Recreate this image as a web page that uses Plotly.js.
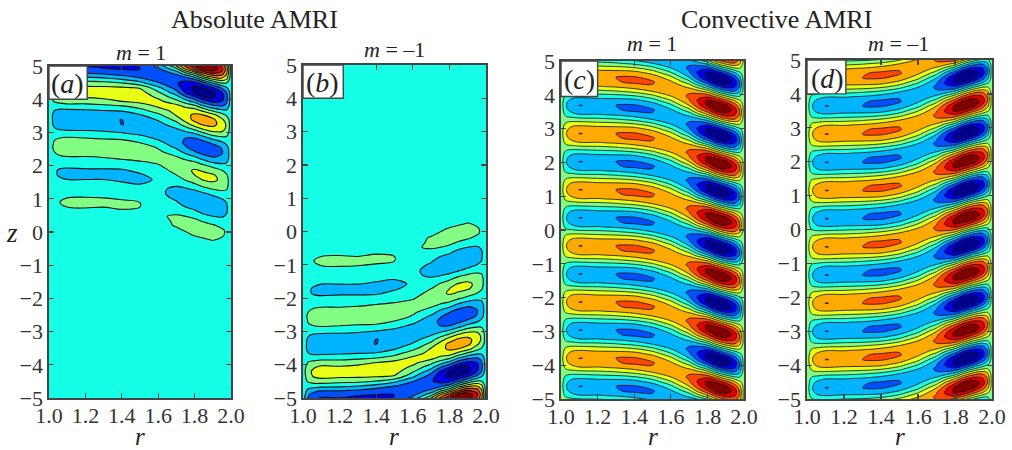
<!DOCTYPE html>
<html><head><meta charset="utf-8">
<script src="https://cdn.plot.ly/plotly-3.0.1.min.js"></script>
<style>html,body{margin:0;padding:0;background:#fff}</style></head>
<body><div id="g" style="width:1012px;height:450px"></div>
<script>
const radius=[1.0,1.012,1.03,1.06,1.1,1.2,1.3,1.4,1.5,1.6,1.7,1.75,1.8,1.85,1.9,1.95,1.975,2.0];
const p0=[0,6,15,22,25.2,24,25,26,22,8,-15,-32,-47,-54,-48,-31,-19,0];
const p1=[0,5,13,19,21,20,20,19,11,-4,-24,-37,-47,-42,-29,-15,-7,0];
const p2=[0,3,8,11,12,10,9,6,-2,-15,-27,-32,-32,-20,-5,5,6,0];
const p3=[0,0,0,0,-1,-2,-4,-8,-15,-22,-23,-19,-11,7,20,24,18,0];
const p4=[0,-3,-8,-11,-14,-14,-16,-20,-24,-23,-12,0,13,31,40,36,25,0];
const p5=[0,-5,-13,-19,-23,-22,-24,-27,-26,-17,1,19,33,50,53,41,25,0];
const p6=[0,-6,-15,-22,-25.2,-24,-25,-26,-22,-8,15,32,47,54,48,31,19,0];
const p7=[0,-5,-13,-19,-21,-20,-20,-19,-11,4,24,37,47,42,29,15,7,0];
const p8=[0,-3,-8,-11,-12,-10,-9,-6,2,15,27,32,32,20,5,-5,-6,0];
const p9=[0,0,0,0,1,2,4,8,15,22,23,19,11,-7,-20,-24,-18,0];
const p10=[0,3,8,11,14,14,16,20,24,23,12,0,-13,-31,-40,-36,-25,0];
const p11=[0,5,13,19,23,22,24,27,26,17,-1,-19,-33,-50,-53,-41,-25,0];
const panelC=[p2,p3,p4,p5,p6,p7,p8,p9,p10,p11,
 p0,p1,p2,p3,p4,p5,p6,p7,p8,p9,p10,p11,
 p0,p1,p2,p3,p4,p5,p6,p7,p8,p9,p10,p11,
 p0,p1,p2,p3,p4,p5,p6,p7,p8,p9,p10,p11,
 p0,p1,p2,p3,p4,p5,p6,p7,p8,p9,p10,p11,
 p0,p1,p2,p3,p4,p5,p6,p7,p8,p9,p10,p11,
 p0,p1,p2,p3,p4,p5];
const panelD=[p10,p9,p8,p7,p6,p5,p4,p3,p2,p1,p0,
 p11,p10,p9,p8,p7,p6,p5,p4,p3,p2,p1,p0,
 p11,p10,p9,p8,p7,p6,p5,p4,p3,p2,p1,p0,
 p11,p10,p9,p8,p7,p6,p5,p4,p3,p2,p1,p0,
 p11,p10,p9,p8,p7,p6,p5,p4,p3,p2,p1,p0,
 p11,p10,p9,p8,p7,p6,p5,p4,p3,p2,p1,p0,
 p11,p10,p9,p8,p7,p6];
// Absolute pattern, panel a
const aHeights=[-5.2,-1.0,-0.774,-0.636,-0.497,-0.359,-0.22,-0.08,0.057,0.196,0.334,0.473,0.611,0.75,0.888,1.027,1.165,1.304,1.442,1.58,1.72,1.857,1.996,2.135,2.273,2.41,2.55,2.69,2.83,2.965,3.10,3.24,3.38,3.52,3.66,3.80,3.935,4.07,4.21,4.35,4.49,4.63,4.77,4.90,5.04,5.18];
const panelA=[
[0,0,0,0,0,0,0,0,0,0,0,0,0,0,0,0,0,0],
[0,0,0,0,0,0,0,0,0,0,0,0,0,0,0,0,0,0],
[0,0,0,1,1,1,1,1,1,0,0,-1,-1,-2,-1,-1,-1,0],
[0,0,1,1,1,1,1,1,1,0,-1,-2,-2,-2,-1,-1,0,0],
[0,0,1,1,1,1,1,0,0,-1,-2,-2,-2,-1,0,0,0,0],
[0,0,0,0,0,0,0,-1,-1,-2,-2,-2,-1,1,2,2,2,0],
[0,0,-1,-1,-2,-2,-2,-3,-3,-2,-2,0,2,4,6,4,3,0],
[0,-1,-2,-3,-4,-4,-4,-4,-4,-2,0,3,6,8,8,6,4,0],
[0,-1,-3,-4,-4,-4,-4,-4,-4,-1,3,6,9,10,9,6,4,0],
[0,-1,-3,-4,-4,-4,-4,-4,-2,1,6,8,9,8,6,3,1,0],
[0,-1,-2,-2,-3,-2,-2,-1,0,3,6,7,7,4,1,-1,-1,0],
[0,0,0,0,0,0,1,2,4,4,6,5,3,-2,-5,-6,-4,0],
[0,1,2,3,3,3,4,4,4,4,3,0,-3,-8,-10,-9,-6,0],
[0,1,3,4,5,5.5,5,6,5,3,0,-5,-8,-12,-13,-10,-6,0],
[0,1,3,5,6,6.5,6.5,6.5,5,2,-4,-9,-12,-14,-13,-9,-5,0],
[0,1,3,4,5,5.5,5,4,3,-1,-7,-11,-13,-11,-8,-4,-2,0],
[0,1,2,3,3,2,2,1,0,-3,-8,-10,-10,-6,-2,2,2,0],
[0,0,0,0,0,0,-1,-2,-4,-4,-6,-6,-3,2,6,7,6,0],
[0,-1,-2,-3,-4,-4,-4,-4,-5,-3,-4,0,4,10,13,12,8,0],
[0,-1,-3,-4,-5,-5,-5,-6,-7,-4,0,6,11,16,17,13,8,0],
[0,-2,-4,-6,-7,-7,-7,-7,-6,-2,5,11,15,17,16,11,6,0],
[0,-1,-4,-6,-6,-6,-6,-6,-3,1,8,13,16,14,10,5,2,0],
[0,-1,-2,-3,-4,-3,-3,-2,1,4,10,12,12,7,2,-2,-2,0],
[0,0,0,0,0,1,1,3,5,7,9,7,4,-3,-8,-9,-7,0],
[0,1,3,4,5,5,6,8,9,9,5,0,-5,-12,-16,-14,-10,0],
[0,2,5,8,10,9,10,11,11,7,0,-8,-14,-20,-21,-16,-10,0],
[0,3,7,10,11,11,11,11,10,4,-7,-14,-20,-22,-20,-14,-8,0],
[0,2,6,9,10,9,9,9,5,-2,-11,-17,-20,-18,-13,-7,-3,0],
[0,1,4,5,6,5,4,3,-1,-7,-13,-15,-15,-10,-2,2,3,0],
[0,0,0,0,0,-1,-2,-4,-7,-11,-11,-9,-5,3,10,12,9,0],
[0,-2,-4,-6,-7,-7,-8,-10,-12,-12,-6,0,7,16,21,19,13,0],
[0,-3,-7,-10,-12,-12,-13,-15.1,-14,-9,1,10,20,27,28,21,14,0],
[0,-3,-8,-12,-14,-13,-14,-15.1,-12,-4,8,19,28,31,28,17,11,0],
[0,-3,-8,-11,-12,-12,-12,-11,-6,2,16,22,27,25,19,9,4,0],
[0,-2,-5,-7,-7,-6,-5,-4,1,11,18,20,20,12,3,-3,-4,0],
[0,0,0,0,1,1,3,5,10,17,18,12,7,-5,-13,-16,-12,0],
[0,2,6,8,10,10,11,15,18,18,8,0,-9,-21,-28,-25,-17,0],
[0,4,10,14,17,16,18,20,21,13,-1,-14,-24,-35,-37,-29,-19,0],
[0,5,12,18,21,19,20,21,19,6,-12,-26,-36,-41,-37,-25,-15,0],
[0,4,11,16,18,17,17,16,14,-3,-20,-31,-37,-34,-25,-13,-6,0],
[0,3,7,10,11,9,8,5,-2,-14,-24,-29,-29,-18,-5,5,5,0],
[0,0,0,0,-1,-2,-4,-8,-14,-21,-23,-19,-11,7,20,24,18,0],
[0,-3,-8,-11,-14,-14,-16,-20,-24,-23,-13,0,14,34,44,40,27,0],
[0,-5,-14,-20,-22,-23,-24,-25,-25,-18,1,24,41,59,62,49,31,0],
[0,-7,-17,-24,-27,-26,-28,-29,-24,-9,20,42,58,66,60,40,25,0],
[0,-6,-15,-22,-24,-23,-23,-22,-13,5,32,50,59,54,39,20,9,0]];
// Panel b is panel a read upside down
const bHeights=aHeights.slice().reverse().map(v=>-v);
const panelB=panelA.slice().reverse();
const bandColors=['#00008c','#0000e6','#0050ff','#00b4ff','#14ffe6','#82ff82','#e6ff14','#ffaa00','#ff4600','#e10000','#800000'];
const xTicks=['1.0','1.2','1.4','1.6','1.8','2.0'];
const serif='"Liberation Serif","Times New Roman",serif';
const W=1012,H=450;
const scale=bandColors.map((c,i)=>[i/(bandColors.length-1),c]);
function contour(xa,ya,z,extra,start,end,lw){
 return Object.assign({type:'contour',x:radius,z:z,xaxis:xa,yaxis:ya,autocontour:false,showscale:false,
  contours:{start:start,end:end,size:10,coloring:'fill',showlines:true},
  colorscale:scale,line:{color:'#111',width:lw,smoothing:1},hoverinfo:'skip'},extra);
}
const traces=[
 contour('x','y',panelA,{y:aHeights},-35,55,1.1),
 contour('x2','y2',panelB,{y:bHeights},-35,55,1.1),
 contour('x3','y3',panelC,{y0:-5.178,dy:0.1385},-45,45,0.8),
 contour('x4','y4',panelD,{y0:-5.223,dy:0.1385},-45,45,0.8)
];
const boxes=[
 {x:[49,231],y:[66,398],bx:1.21,bz:4.0,lab:'a',lx:67,ly:84},
 {x:[303,486],y:[65,398],bx:1.22,bz:4.0,lab:'b',lx:322,ly:82},
 {x:[561,744],y:[61,399],bx:1.2,bz:3.95,lab:'c',lx:579,ly:79},
 {x:[807,992],y:[60,399],bx:1.21,bz:4.0,lab:'d',lx:827,ly:78}
];
const layout={width:W,height:H,autosize:false,margin:{l:0,r:0,t:0,b:0},paper_bgcolor:'#fff',plot_bgcolor:'#fff',
 font:{family:serif,color:'#333',size:22},showlegend:false,shapes:[],annotations:[]};
function note(px,py,text,size){layout.annotations.push({xref:'paper',yref:'paper',x:px/W,y:1-py/H,text:text,showarrow:false,xanchor:'center',yanchor:'middle',font:{family:serif,size:size,color:'#222'}});}
boxes.forEach((b,i)=>{
 const s=i?String(i+1):'';
 const ax={showline:true,mirror:'allticks',linewidth:1.6,linecolor:'#444',ticks:'inside',ticklen:5,tickwidth:1.2,tickcolor:'#444',
  showgrid:false,zeroline:false,tickfont:{family:serif,size:22,color:'#333'}};
 layout['xaxis'+s]=Object.assign({},ax,{domain:[b.x[0]/W,b.x[1]/W],range:[1,2],anchor:'y'+s,tickmode:'array',tickvals:xTicks.map(Number),ticktext:xTicks,ticklabelstandoff:-3});
 layout['yaxis'+s]=Object.assign({},ax,{domain:[1-b.y[1]/H,1-b.y[0]/H],range:[-5,5],anchor:'x'+s,dtick:1,tick0:0});
 layout.shapes.push({type:'rect',xref:'x'+s,yref:'y'+s,x0:1,x1:b.bx,y0:b.bz,y1:5,fillcolor:'#fff',line:{color:'#444',width:1.4},layer:'above'});
 note(b.lx,b.ly,'(<i>'+b.lab+'</i>)',28);
});
note(254,19,'Absolute AMRI',26);
note(776,19,'Convective AMRI',26);
note(141,53,'<i>m</i> = 1',22);
note(394,49,'<i>m</i> = –1',22);
note(652,44,'<i>m</i> = 1',22);
note(898,44,'<i>m</i> = –1',22);
note(140,436,'<i>r</i>',25);
note(394,436,'<i>r</i>',25);
note(653,436,'<i>r</i>',25);
note(900,436,'<i>r</i>',25);
note(12,233,'<i>z</i>',27);
Plotly.newPlot('g',traces,layout,{staticPlot:true,displayModeBar:false});
</script></body></html>
